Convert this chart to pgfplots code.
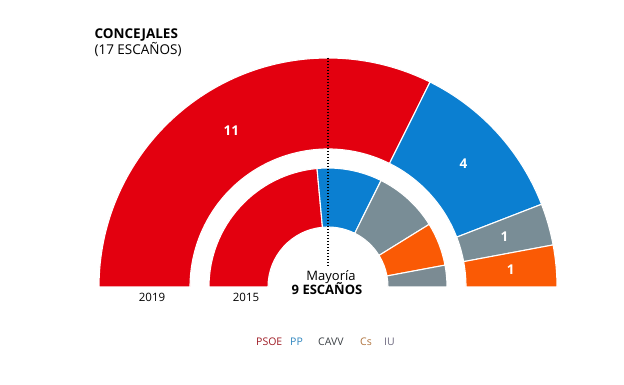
\documentclass[border=0pt]{standalone}
\usepackage{fontspec}
\setmainfont{Open Sans}
\usepackage{pgfplots}
\usepackage{pgfplotstable}
\pgfplotsset{compat=1.18}
\definecolor{cPSOE}{HTML}{E3000F}
\definecolor{cPP}{HTML}{0B7FD1}
\definecolor{cCAVV}{HTML}{798D96}
\definecolor{cCs}{HTML}{FA5A05}
\definecolor{cIU}{HTML}{7B8B93}
\definecolor{tPSOE}{HTML}{9E1B24}
\definecolor{tPP}{HTML}{2F86BF}
\definecolor{tCAVV}{HTML}{3A3F44}
\definecolor{tCs}{HTML}{B0743E}
\definecolor{tIU}{HTML}{6E6A80}

% 2019 council (17 seats)
\pgfplotstableread{
party seats color
PSOE 11 cPSOE
PP 4 cPP
CAVV 1 cCAVV
Cs 1 cCs
}\tabA
% 2015 council (17 seats)
\pgfplotstableread{
party seats color
PSOE 8 cPSOE
PP 3 cPP
CAVV 3 cCAVV
Cs 2 cCs
IU 1 cIU
}\tabB

\def\cx{328}
\def\cy{98}
% #1 table, #2 inner radius, #3 outer radius, #4 label (1/0)
\newcommand{\ring}[4]{%
  \pgfplotstablegetrowsof{#1}%
  \pgfmathtruncatemacro{\nrows}{\pgfplotsretval-1}%
  \def\cum{0}%
  \pgfplotsforeachungrouped \i in {0,...,\nrows}{%
    \pgfplotstablegetelem{\i}{seats}\of{#1}\let\segs\pgfplotsretval
    \pgfplotstablegetelem{\i}{color}\of{#1}\let\segc\pgfplotsretval
    \pgfmathsetmacro{\aS}{180-\cum*180/17}%
    \pgfmathsetmacro{\aE}{180-(\cum+\segs)*180/17}%
    \pgfmathsetmacro{\xa}{\cx+#3*cos(\aS)}%
    \pgfmathsetmacro{\ya}{\cy+#3*sin(\aS)}%
    \pgfmathsetmacro{\xb}{\cx+#2*cos(\aE)}%
    \pgfmathsetmacro{\yb}{\cy+#2*sin(\aE)}%
    \edef\temp{\noexpand\fill[\segc, draw=white, line width=1.1pt]
      (axis cs:\xa,\ya) arc[start angle=\aS, end angle=\aE, radius=#3pt]
      -- (axis cs:\xb,\yb) arc[start angle=\aE, end angle=\aS, radius=#2pt] -- cycle;}%
    \temp
    \ifnum#4=1
      \pgfmathsetmacro{\am}{(\aS+\aE)/2}%
      \pgfmathsetmacro{\rm}{(#2+#3)/2}%
      \pgfmathsetmacro{\xm}{\cx+\rm*cos(\am)}%
      \pgfmathsetmacro{\ym}{\cy+\rm*sin(\am)}%
      \edef\temp{\noexpand\node[text=white, font=\noexpand\bfseries\noexpand\fontsize{13.5}{15}\noexpand\selectfont]
        at (axis cs:\xm,\ym) {\segs};}%
      \temp
    \fi
    \pgfmathsetmacro{\cum}{\cum+\segs}%
  }%
}

\begin{document}
\begin{tikzpicture}
\begin{axis}[
  x=1pt, y=1pt,
  xmin=0, xmax=624, ymin=0, ymax=385,
  scale only axis, hide axis, clip=false, disabledatascaling,
]
\addplot[draw=none] coordinates {(0,0) (624,385)};
\ring{\tabA}{138}{229}{1}
\ring{\tabB}{60}{119}{0}
\addplot[black, line width=1.4pt, dash pattern=on 1.4pt off 1.6pt] coordinates {(328,327) (328,119)};

\node[anchor=base west, font=\bfseries\fontsize{13.5}{16}\selectfont] at (axis cs:91,346) {CONCEJALES};
\node[anchor=base west, font=\fontsize{13.5}{16}\selectfont] at (axis cs:91,330) {(17 ESCAÑOS)};

\node[anchor=base, font=\fontsize{13}{14}\selectfont] at (axis cs:331,104) {Mayoría};
\node[anchor=base, font=\bfseries\fontsize{13}{15}\selectfont] at (axis cs:327,90) {9 ESCAÑOS};

\node[anchor=base, font=\fontsize{11.5}{13}\selectfont] at (axis cs:152,83) {2019};
\node[anchor=base, font=\fontsize{11.5}{13}\selectfont] at (axis cs:246,83) {2015};

\node[anchor=base west, inner sep=0pt, text=tPSOE, font=\fontsize{10.5}{12}\selectfont] at (axis cs:256,39) {PSOE};
\node[anchor=base west, inner sep=0pt, text=tPP, font=\fontsize{10.5}{12}\selectfont] at (axis cs:290,39) {PP};
\node[anchor=base west, inner sep=0pt, text=tCAVV, font=\fontsize{10.5}{12}\selectfont] at (axis cs:318,39) {CAVV};
\node[anchor=base west, inner sep=0pt, text=tCs, font=\fontsize{10.5}{12}\selectfont] at (axis cs:360,39) {Cs};
\node[anchor=base west, inner sep=0pt, text=tIU, font=\fontsize{10.5}{12}\selectfont] at (axis cs:384,39) {IU};
\end{axis}
\end{tikzpicture}
\end{document}
